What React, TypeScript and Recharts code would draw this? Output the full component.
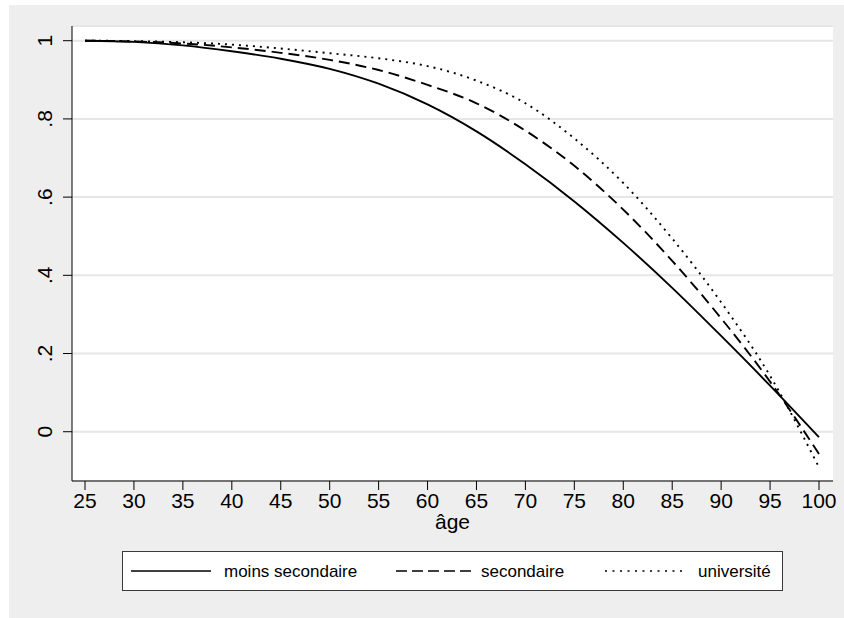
import React from 'react'
import {
  LineChart, Line, XAxis, YAxis, CartesianGrid,
} from 'recharts'

const FONT = '"Liberation Sans", Arial, Helvetica, sans-serif'

// ages (x) and predicted values
const ages = [25, 30, 35, 40, 45, 50, 55, 60, 65, 70, 75, 80, 85, 90, 95, 100]
const moinsSecondaire = [1.0, 0.997, 0.988, 0.973, 0.954, 0.928, 0.89, 0.837, 0.768, 0.684, 0.589, 0.483, 0.368, 0.245, 0.118, -0.014]
const secondaire = [1.0, 0.998, 0.993, 0.983, 0.969, 0.951, 0.925, 0.887, 0.84, 0.77, 0.68, 0.568, 0.437, 0.29, 0.128, -0.057]
const universite = [1.0, 0.999, 0.996, 0.99, 0.98, 0.968, 0.955, 0.935, 0.898, 0.84, 0.75, 0.636, 0.494, 0.331, 0.143, -0.091]

const xTicks = [25, 30, 35, 40, 45, 50, 55, 60, 65, 70, 75, 80, 85, 90, 95, 100]
const yTicks = [0, 0.2, 0.4, 0.6, 0.8, 1]
const legendLabels = ['moins secondaire', 'secondaire', 'université']

const data = ages.map((age, i) => ({
  age,
  moins: moinsSecondaire[i],
  sec: secondaire[i],
  univ: universite[i],
}))

// Stata style: 0, .2, .4 ... 1
const fmtY = (v: number) => {
  if (Math.abs(v) < 1e-9) return '0'
  if (Math.abs(v - 1) < 1e-9) return '1'
  return String(Math.round(v * 10) / 10).replace(/^0/, '')
}

const YTick = (props: any) => {
  const { x, y, payload } = props
  const cx = x - 18
  return (
    <text
      x={cx}
      y={y}
      transform={`rotate(-90, ${cx}, ${y})`}
      textAnchor="middle"
      dominantBaseline="central"
      fontFamily={FONT}
      fontSize={21}
      fill="#000"
    >
      {fmtY(payload.value)}
    </text>
  )
}

const Legendbox = () => (
  <div
    style={{
      position: 'absolute', left: 113, top: 546, width: 661, height: 40,
      border: '1px solid #3a3a3a', background: '#fff', boxSizing: 'border-box',
    }}
  >
    <svg width={659} height={38} style={{ display: 'block' }}>
      <line x1={8} x2={88} y1={19} y2={19} stroke="#000" strokeWidth={1.6} />
      <text x={101} y={19} dominantBaseline="central" fontFamily={FONT} fontSize={17} fill="#000">
        {legendLabels[0]}
      </text>
      <line x1={273} x2={348} y1={19} y2={19} stroke="#000" strokeWidth={1.6} strokeDasharray="11 5" />
      <text x={358} y={19} dominantBaseline="central" fontFamily={FONT} fontSize={17} fill="#000">
        {legendLabels[1]}
      </text>
      <line x1={482} x2={560} y1={19} y2={19} stroke="#000" strokeWidth={1.6} strokeDasharray="2 5.5" />
      <text x={575} y={19} dominantBaseline="central" fontFamily={FONT} fontSize={17} fill="#000">
        {legendLabels[2]}
      </text>
    </svg>
  </div>
)

export default function App() {
  return (
    <div style={{ position: 'relative', width: 844, height: 618, background: '#fff' }}>
      <style>{'body{margin:0}'}</style>
      <div style={{ position: 'absolute', left: 9, top: 5, width: 835, height: 613, background: '#eeeeee' }}>
        <LineChart
          width={835}
          height={613}
          data={data}
          margin={{ top: 21, right: 11, bottom: 0, left: 0 }}
        >
          <CartesianGrid vertical={false} stroke="#e6e6e6" strokeWidth={2} fill="#fff" />
          <XAxis
            type="number"
            dataKey="age"
            domain={[23.67, 101.43]}
            ticks={xTicks}
            allowDataOverflow
            height={137}
            tickSize={9}
            tickMargin={3}
            axisLine={{ stroke: '#000' }}
            tickLine={{ stroke: '#000' }}
            tick={{ fontFamily: FONT, fontSize: 21, fill: '#000' }}
            label={{ value: 'âge', position: 'insideTop', offset: 33, fontFamily: FONT, fontSize: 21, fill: '#000' }}
          />
          <YAxis
            type="number"
            domain={[-0.126, 1.0376]}
            ticks={yTicks}
            allowDataOverflow
            width={63}
            tickSize={9}
            tickMargin={0}
            axisLine={{ stroke: '#000' }}
            tickLine={{ stroke: '#000' }}
            tick={<YTick />}
          />
          <Line type="monotone" dataKey="moins" stroke="#000" strokeWidth={1.9} dot={false} isAnimationActive={false} />
          <Line type="monotone" dataKey="sec" stroke="#000" strokeWidth={1.9} strokeDasharray="11 6" dot={false} isAnimationActive={false} />
          <Line type="monotone" dataKey="univ" stroke="#000" strokeWidth={1.9} strokeDasharray="2 5" dot={false} isAnimationActive={false} />
        </LineChart>
        <Legendbox />
      </div>
    </div>
  )
}
